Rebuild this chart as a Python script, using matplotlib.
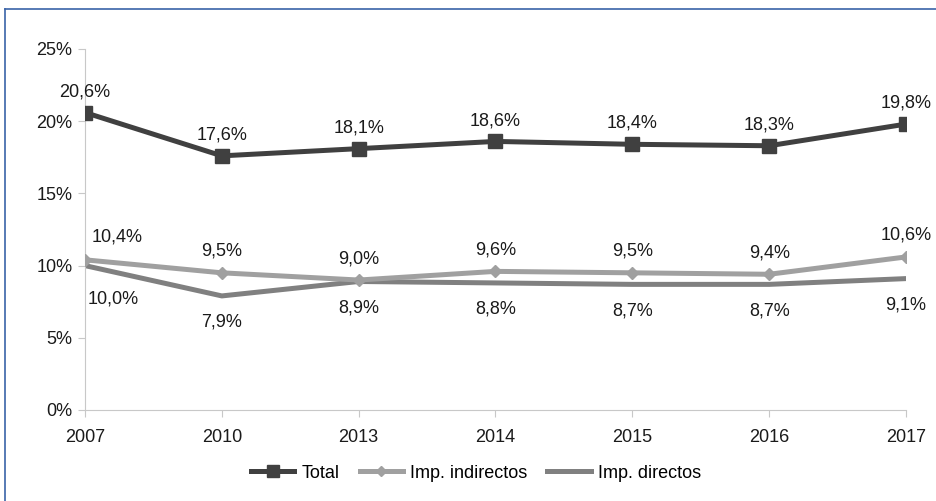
import matplotlib.pyplot as plt
from matplotlib.lines import Line2D

plt.rcParams['font.family'] = ['Liberation Sans', 'DejaVu Sans']
plt.rcParams['font.size'] = 13

years = ['2007', '2010', '2013', '2014', '2015', '2016', '2017']
total = [20.6, 17.6, 18.1, 18.6, 18.4, 18.3, 19.8]
indirectos = [10.4, 9.5, 9.0, 9.6, 9.5, 9.4, 10.6]
directos = [10.0, 7.9, 8.9, 8.8, 8.7, 8.7, 9.1]

def fmt(v):
    return ('%.1f%%' % v).replace('.', ',')

fig = plt.figure(figsize=(9.36, 5.01), dpi=100)
ax = fig.add_axes([85/936, 1-410/501, (906-85)/936, (410-49)/501])

x = list(range(len(years)))
ax.plot(x, total, color='#404040', lw=3.6, marker='s', ms=10, label='Total', zorder=4)
ax.plot(x, indirectos, color='#a0a0a0', lw=3.6, marker='D', ms=6.5, label='Imp. indirectos', zorder=3)
ax.plot(x, directos, color='#808080', lw=3.6, label='Imp. directos', zorder=2)

txt = '#1a1a1a'
for i in x:
    ax.annotate(fmt(total[i]), (i, total[i]), xytext=(0, 15), textcoords='offset points',
                ha='center', va='center', color=txt)
    if i == 0:
        ax.annotate(fmt(indirectos[i]), (i, indirectos[i]), xytext=(23, 16.5), textcoords='offset points',
                    ha='center', va='center', color=txt)
        ax.annotate(fmt(directos[i]), (i, directos[i]), xytext=(20, -24), textcoords='offset points',
                    ha='center', va='center', color=txt)
    else:
        ax.annotate(fmt(indirectos[i]), (i, indirectos[i]), xytext=(0, 15.5), textcoords='offset points',
                    ha='center', va='center', color=txt)
        ax.annotate(fmt(directos[i]), (i, directos[i]), xytext=(0, -19), textcoords='offset points',
                    ha='center', va='center', color=txt)

ax.set_xlim(0, len(years)-1)
ax.set_ylim(0, 25)
ax.set_xticks(x)
ax.set_xticklabels(years)
ax.set_yticks([0, 5, 10, 15, 20, 25])
ax.set_yticklabels(['0%', '5%', '10%', '15%', '20%', '25%'])
for s in ['top', 'right']:
    ax.spines[s].set_visible(False)
for s in ['left', 'bottom']:
    ax.spines[s].set_color('#c8c8c8')
ax.tick_params(axis='both', colors='#c8c8c8', labelcolor=txt, length=5, labelsize=13)
ax.tick_params(axis='x', pad=9)
ax.tick_params(axis='y', pad=4)

# leyenda centrada en x~476 px
ax.legend(loc='center', bbox_to_anchor=((476 - 85) / 821, -0.175),
          ncol=3, frameon=False, fontsize=13, handlelength=2.4, columnspacing=1.1,
          handletextpad=0.4, markerscale=0.8)

# marco azul
fig.add_artist(Line2D([5/936, 1], [1-9/501, 1-9/501], color='#3a63a8', lw=1.2))
fig.add_artist(Line2D([5/936, 5/936], [0, 1-9/501], color='#3a63a8', lw=1.2))

fig.savefig('out.png', dpi=100)
